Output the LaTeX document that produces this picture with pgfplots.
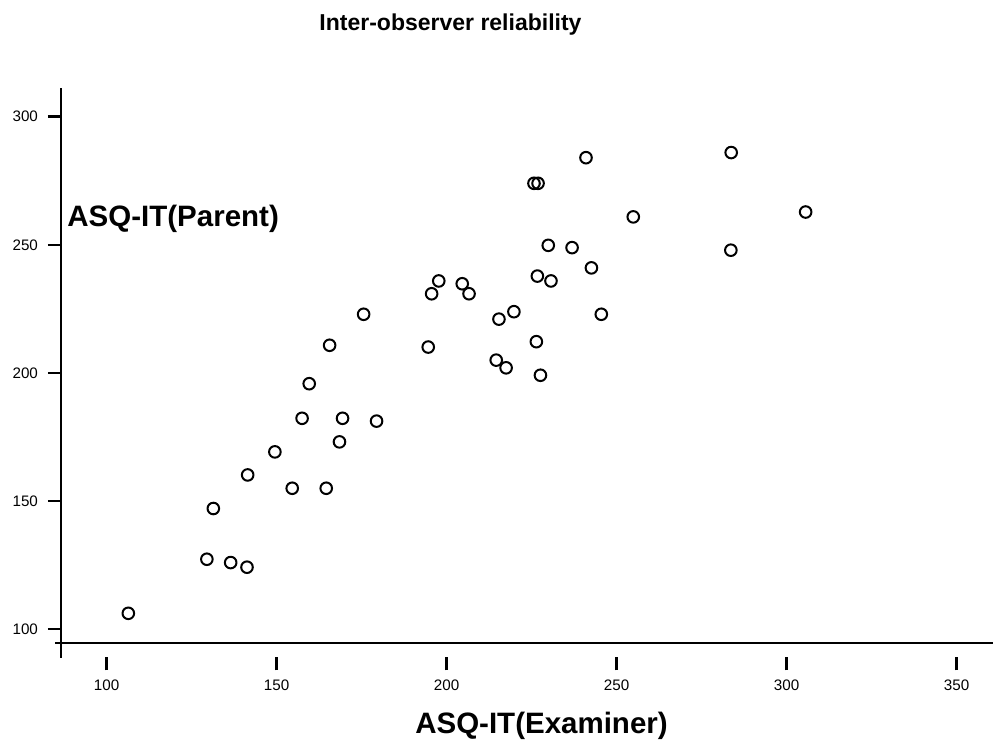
\documentclass[border=0pt]{standalone}
\usepackage{pgfplots}
\pgfplotsset{compat=1.18}
\usepackage{fontspec}
\setmainfont{Liberation Sans}
\begin{document}
\begin{tikzpicture}[x=1pt,y=1pt]
\useasboundingbox (0,0) rectangle (497,371);
\begin{axis}[
  at={(30.5pt,49.35pt)}, anchor=south west,
  scale only axis, width=466pt, height=277.65pt,
  xmin=86.6, xmax=360.7, ymin=94.5, ymax=311.2,
  axis lines*=left,
  axis line style={line width=1.2pt,-},
  xtick={100,150,...,350}, ytick={100,150,...,300},
  tick align=outside,
  major tick length=6.5pt,
  xtick style={line width=1.2pt, black, yshift=-7pt},
  ytick style={line width=1.2pt, black},
  /pgf/number format/assume math mode=true,
  tick label style={font=\fontsize{7.6}{9}\selectfont},
  xticklabel style={anchor=base, yshift=-17pt},
  yticklabel style={anchor=east, xshift=-1.5pt},
  clip=false,
]
\addplot[only marks, mark=o, mark size=2.9pt, mark options={line width=1pt, black}] table {
x y
106.4 106.2
129.5 127.3
136.5 126.0
141.3 124.2
131.4 147.1
141.5 160.2
149.5 169.2
154.6 155.0
164.6 155.0
157.5 182.3
169.4 182.3
179.4 181.2
168.5 173.1
159.6 195.8
165.6 210.8
175.6 222.9
241.0 284.0
225.7 274.0
226.9 274.0
254.9 260.9
229.9 249.8
236.9 248.9
242.6 241.0
226.7 237.8
230.7 235.9
197.7 235.9
204.6 234.8
195.6 230.9
206.6 230.9
219.8 223.9
215.4 221.0
245.5 222.9
194.6 210.1
226.4 212.2
214.6 205.0
217.5 202.0
227.6 199.1
283.7 286.0
305.6 262.8
283.6 247.9
};
\end{axis}
\draw[line width=1.2pt] (30.5,49.35) -- (30.5,42);
\draw[line width=1.2pt] (27.5,49.35) -- (30.5,49.35);
\node[font=\bfseries\fontsize{11.5}{13}\selectfont] at (225.25,358.5) {Inter-observer reliability};
\node[anchor=base west, inner sep=0pt, font=\bfseries\fontsize{14.75}{17}\selectfont] at (33.5,257.65) {ASQ-IT(Parent)};
\node[anchor=base, inner sep=0pt, font=\bfseries\fontsize{14.75}{17}\selectfont] at (270.75,4) {ASQ-IT(Examiner)};
\end{tikzpicture}
\end{document}
